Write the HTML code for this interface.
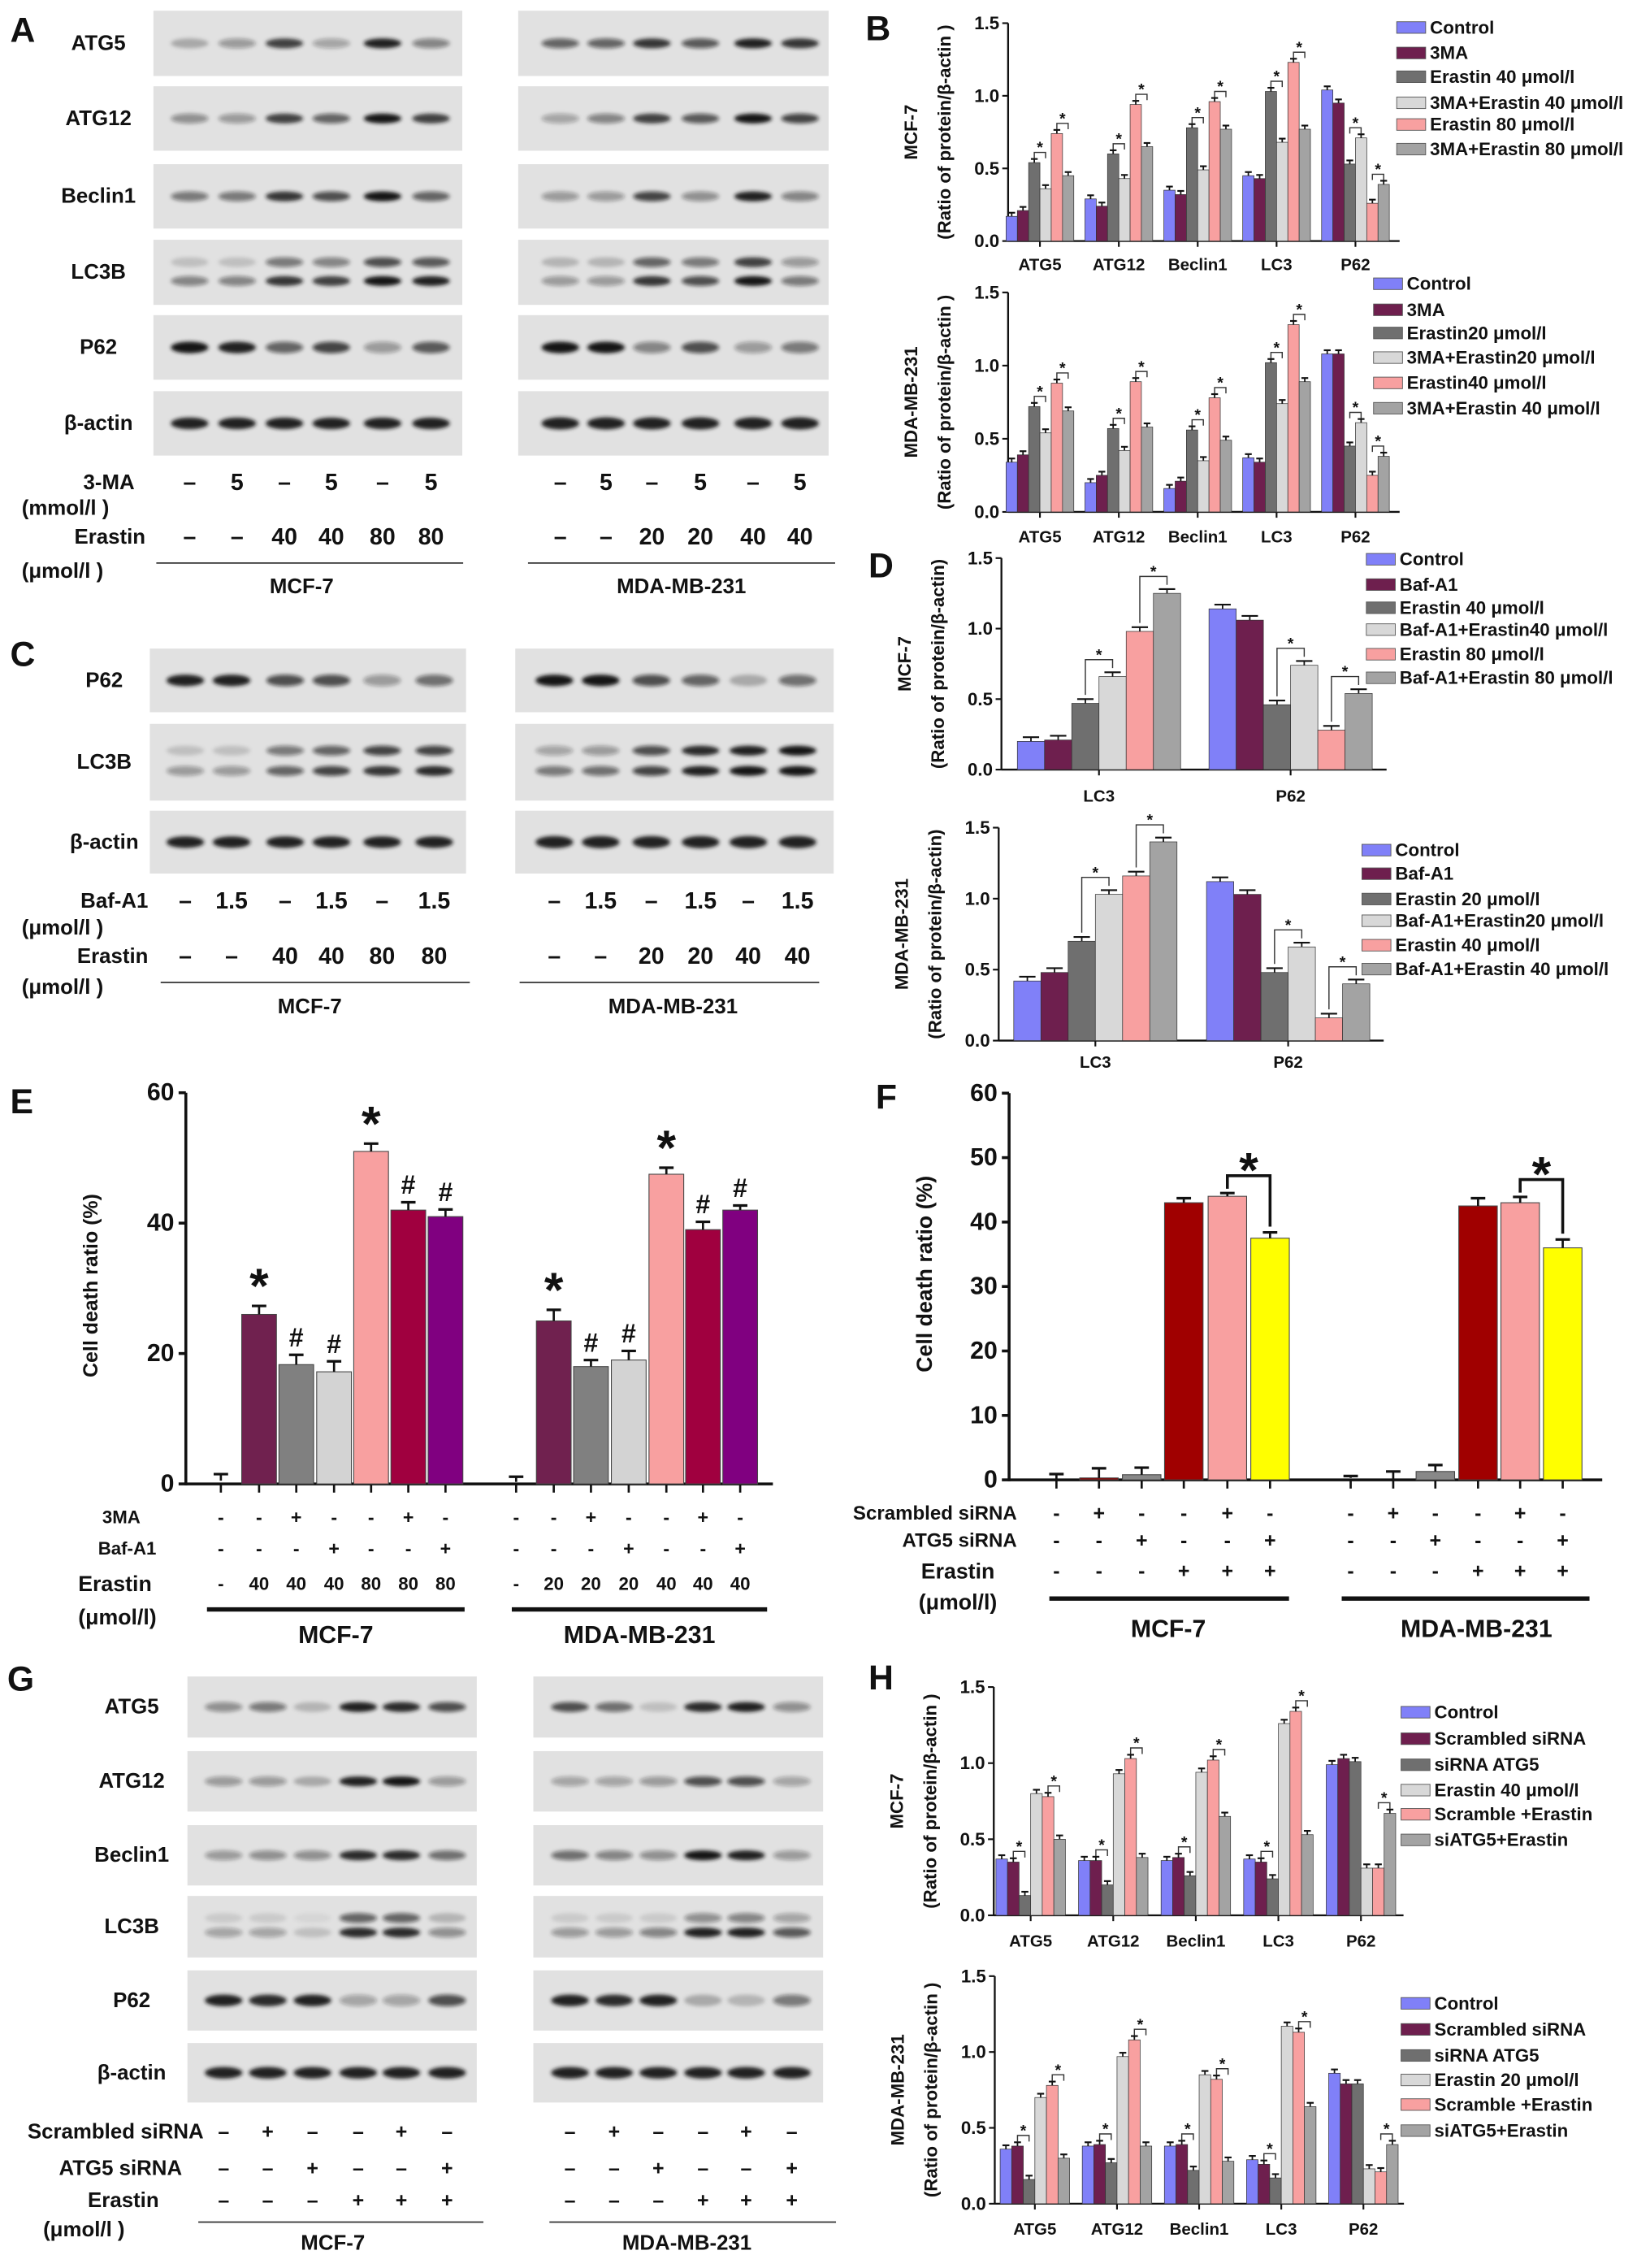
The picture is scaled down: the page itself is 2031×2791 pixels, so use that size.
<!DOCTYPE html>
<html><head><meta charset="utf-8"><style>
html,body{margin:0;padding:0;background:#fff;}
svg{display:block;font-family:"Liberation Sans",sans-serif;font-weight:bold;}
.n{font-family:"Liberation Sans Narrow","Liberation Sans",sans-serif;}
</style></head><body>
<svg id="fig" xmlns="http://www.w3.org/2000/svg" width="2031" height="2791" viewBox="0 0 1140 1566.6">
<defs><filter id="bl" x="-50%" y="-100%" width="200%" height="300%"><feGaussianBlur stdDeviation="1.3"/></filter></defs>
</svg>
<script>
// ---------- Chart data ----------
const bCats = ["ATG5","ATG12","Beclin1","LC3","P62"];
const bMcfSeries = [[0.17,0.29,0.35,0.45,1.04],[0.21,0.24,0.32,0.43,0.95],[0.54,0.60,0.78,1.03,0.53],[0.36,0.43,0.49,0.68,0.71],[0.74,0.94,0.96,1.23,0.26],[0.45,0.65,0.77,0.77,0.39]];
const bMdaSeries = [[0.34,0.20,0.16,0.37,1.08],[0.39,0.25,0.21,0.34,1.08],[0.72,0.57,0.56,1.02,0.45],[0.54,0.42,0.35,0.74,0.61],[0.88,0.89,0.78,1.28,0.25],[0.69,0.58,0.49,0.89,0.38]];
const bMcfLegend = ["Control","3MA","Erastin 40 μmol/l","3MA+Erastin 40 μmol/l","Erastin 80 μmol/l","3MA+Erastin  80 μmol/l"];
const bMdaLegend = ["Control","3MA","Erastin20 μmol/l","3MA+Erastin20 μmol/l","Erastin40 μmol/l","3MA+Erastin 40 μmol/l"];
const dCats = ["LC3","P62"];
const dMcfSeries = [[0.20,1.14],[0.21,1.06],[0.47,0.46],[0.66,0.74],[0.98,0.28],[1.25,0.54]];
const dMdaSeries = [[0.42,1.12],[0.48,1.03],[0.70,0.48],[1.03,0.66],[1.16,0.16],[1.40,0.40]];
const dMcfLegend = ["Control","Baf-A1","Erastin 40 μmol/l","Baf-A1+Erastin40 μmol/l","Erastin 80 μmol/l","Baf-A1+Erastin 80 μmol/l"];
const dMdaLegend = ["Control","Baf-A1","Erastin 20 μmol/l","Baf-A1+Erastin20 μmol/l","Erastin 40 μmol/l","Baf-A1+Erastin 40 μmol/l"];
const hMcfSeries = [[0.37,0.36,0.36,0.37,0.99],[0.35,0.36,0.38,0.35,1.03],[0.13,0.20,0.26,0.24,1.01],[0.80,0.93,0.94,1.26,0.31],[0.78,1.03,1.02,1.34,0.31],[0.50,0.38,0.65,0.53,0.67]];
const hMdaSeries = [[0.36,0.38,0.38,0.29,0.86],[0.38,0.39,0.39,0.26,0.79],[0.16,0.27,0.22,0.17,0.79],[0.70,0.97,0.85,1.17,0.23],[0.78,1.08,0.82,1.13,0.21],[0.30,0.38,0.28,0.64,0.39]];
const hMcfLegend = ["Control","Scrambled siRNA","siRNA ATG5","Erastin  40  μmol/l","Scramble +Erastin","siATG5+Erastin"];
const hMdaLegend = ["Control","Scrambled siRNA","siRNA ATG5","Erastin  20  μmol/l","Scramble +Erastin","siATG5+Erastin"];
const eMcfVals = [0.5,26,18.3,17.2,51,42,41];
const eMcfErr = [1,1.3,1.5,1.6,1.2,1.2,1.1];
const eMdaVals = [0.3,25,18,19,47.5,39,42];
const eMdaErr = [0.8,1.7,1,1.4,1,1.2,0.7];
const eMarks = ["","*","#","#","*","#","#"];
const eYTicks = [0,20,40,60];
const fMcfVals = [0,0.3,0.8,43,44,37.5];
const fMcfErr = [0.9,1.5,1.1,0.7,0.5,0.9];
const fMdaVals = [0.3,0,1.3,42.5,43,36];
const fMdaErr = [0.3,1.3,1.0,1.2,0.9,1.3];
const fYTicks = [0,10,20,30,40,50,60];
const bYTicks = [0,0.5,1,1.5];

// ---------- helpers ----------
const NS="http://www.w3.org/2000/svg";
const svg=document.getElementById('fig');
function mk(tag,attrs,name,parent){
  const el=document.createElementNS(NS,tag);
  for(const k in attrs) el.setAttribute(k,attrs[k]);
  
  
  (parent||svg).appendChild(el);
  return el;
}
function txt(x,y,s,fs,name,anchor,extra){
  const a=Object.assign({x:x,y:y,'font-size':fs,'text-anchor':anchor||'start','dominant-baseline':'central',fill:'#111'},extra||{});
  const t=mk('text',a,name);
  t.textContent=s;
  return t;
}
function line(x1,y1,x2,y2,w,name,col){return mk('line',{x1:x1,y1:y1,x2:x2,y2:y2,stroke:col||'#111','stroke-width':w},name);}

// ---------- panel letters ----------
[["A",7,21],["B",598,20],["C",7,452],["D",600,391],["E",7,761],["F",605,758],["G",5,1160],["H",600,1159]].forEach(p=>{
  txt(p[1],p[2],p[0],24,'panel-label-'+p[0].toLowerCase());
});

// ---------- western blots ----------
function blot(x0,x1,y0,y1,lanes,bands,name){
  mk('rect',{x:x0,y:y0,width:x1-x0,height:y1-y0,fill:'#e1e1e1'},name);
  const cy=(y0+y1)/2;
  bands.forEach(b=>{
    b.v.forEach((v,i)=>{
      mk('ellipse',{cx:lanes[i],cy:cy+b.o,rx:13,ry:b.h||3.4,fill:'#151515','fill-opacity':v,filter:'url(#bl)'},name+'-band');
    });
  });
}
const aMcfLanes=[131,163.8,196.5,228.9,264.3,297.8], aMdaLanes=[387.1,418.7,450.4,483.9,520.3,552.7];
const aRows=[[7.4,52.5,"ATG5"],[59.6,104.1,"ATG12"],[113.4,157.9,"Beclin1"],[165.6,210.6,"LC3B"],[217.7,262.3,"P62"],[270.2,314.7,"β-actin"]];
const aBandsMcf=[[{o:0,v:[.25,.35,.8,.3,.95,.45]}],[{o:0,v:[.4,.35,.8,.6,1,.8]}],[{o:0,v:[.5,.5,.85,.7,1,.6]}],[{o:-7,v:[.15,.15,.5,.45,.7,.65]},{o:6,v:[.45,.45,.85,.8,1,.95]}],[{o:0,v:[1,.95,.6,.75,.35,.65],h:4}],[{o:0,v:[.95,.95,.95,.95,.95,.95],h:4}]];
const aBandsMda=[[{o:0,v:[.6,.6,.85,.65,.95,.85]}],[{o:0,v:[.3,.45,.8,.65,1,.75]}],[{o:0,v:[.35,.35,.75,.4,.95,.45]}],[{o:-7,v:[.2,.2,.6,.5,.8,.35]},{o:6,v:[.35,.35,.85,.7,1,.5]}],[{o:0,v:[1,1,.45,.7,.35,.5],h:4}],[{o:0,v:[.95,.95,.95,.95,.95,.95],h:4.2}]];
aRows.forEach((r,i)=>{
  blot(106,319.4,r[0],r[1],aMcfLanes,aBandsMcf[i],'blot-a-mcf7-'+r[2]);
  blot(358,572.5,r[0],r[1],aMdaLanes,aBandsMda[i],'blot-a-mda-'+r[2]);
  txt(68,(r[0]+r[1])/2,r[2],14.5,'blot-label-a','middle');
});
const aMA=["–","5","–","5","–","5"], aErM=["–","–","40","40","80","80"], aErD=["–","–","20","20","40","40"];
txt(93,333.3,"3-MA",14.5,'row-label-3ma','end');
txt(15,351,"(mmol/l )",14.5,'row-unit-3ma');
txt(100.5,370.9,"Erastin",14.5,'row-label-erastin','end');
txt(15,394.7,"(μmol/l )",14.5,'row-unit-erastin');
aMcfLanes.forEach((x,i)=>{txt(x,333.3,aMA[i],16,'lane-3ma','middle');txt(x,370.9,aErM[i],16,'lane-erastin','middle');});
aMdaLanes.forEach((x,i)=>{txt(x,333.3,aMA[i],16,'lane-3ma','middle');txt(x,370.9,aErD[i],16,'lane-erastin','middle');});
line(108,388.9,320,388.9,1,'group-line-mcf7','#333');line(364.8,388.9,577,388.9,1,'group-line-mda','#333');
txt(208.4,405.3,"MCF-7",14.5,'group-label-mcf7','middle');txt(470.8,405.3,"MDA-MB-231",14.5,'group-label-mda','middle');

// Panel C
const cMcfLanes=[128,160,197,229,264,300], cMdaLanes=[383,415,450,484,517,551];
const cRows=[[448,492,"P62"],[500,553,"LC3B"],[560,603.4,"β-actin"]];
const cBMcf=[[{o:0,v:[.95,.95,.7,.7,.35,.55],h:4}],[{o:-8,v:[.15,.15,.5,.6,.75,.75]},{o:6,v:[.35,.35,.6,.75,.85,.9]}],[{o:0,v:[.95,.95,.95,.95,.95,.95],h:4}]];
const cBMda=[[{o:0,v:[1,1,.7,.6,.25,.55],h:4}],[{o:-8,v:[.3,.35,.7,.9,.95,1]},{o:6,v:[.5,.55,.75,.95,1,1]}],[{o:0,v:[.95,.95,.95,.95,.95,.95],h:4.2}]];
cRows.forEach((r,i)=>{
  blot(103.5,322,r[0],r[1],cMcfLanes,cBMcf[i],'blot-c-mcf7-'+r[2]);
  blot(356,576,r[0],r[1],cMdaLanes,cBMda[i],'blot-c-mda-'+r[2]);
  txt(72,(r[0]+r[1])/2,r[2],14.5,'blot-label-c','middle');
});
const cBaf=["–","1.5","–","1.5","–","1.5"];
txt(102.4,622.4,"Baf-A1",14.5,'row-label-bafa1','end');
txt(15,641,"(μmol/l )",14.5,'row-unit-bafa1');
txt(102.4,660.7,"Erastin",14.5,'row-label-erastin','end');
txt(15,682,"(μmol/l )",14.5,'row-unit-erastin');
cMcfLanes.forEach((x,i)=>{txt(x,622.4,cBaf[i],16,'lane-bafa1','middle');txt(x,660.7,aErM[i],16,'lane-erastin','middle');});
cMdaLanes.forEach((x,i)=>{txt(x,622.4,cBaf[i],16,'lane-bafa1','middle');txt(x,660.7,aErD[i],16,'lane-erastin','middle');});
line(111,678.6,324.6,678.6,1,'group-line-mcf7','#333');line(359,678.6,566,678.6,1,'group-line-mda','#333');
txt(214,695.4,"MCF-7",14.5,'group-label-mcf7','middle');txt(465,695.4,"MDA-MB-231",14.5,'group-label-mda','middle');

// Panel G
const gMcfLanes=[154.5,185,215.9,247.5,277.3,308.9], gMdaLanes=[393.8,424.3,454.8,485.7,515.5,547.1];
const gRows=[[1158,1200.2,"ATG5"],[1209.6,1251.3,"ATG12"],[1260.7,1302.4,"Beclin1"],[1309.6,1352.1,"LC3B"],[1361,1402.6,"P62"],[1411.2,1452.3,"β-actin"]];
const gBMcf=[[{o:0,v:[.4,.5,.2,.95,.9,.7]}],[{o:0,v:[.35,.35,.25,.95,1,.35]}],[{o:0,v:[.35,.4,.4,.9,.9,.55]}],[{o:-6,v:[.1,.1,.05,.6,.6,.2]},{o:4,v:[.3,.3,.15,.9,.9,.4]}],[{o:0,v:[.95,.9,.95,.3,.3,.7],h:4}],[{o:0,v:[.95,.95,.95,.95,.95,.95],h:4}]];
const gBMda=[[{o:0,v:[.7,.55,.15,.9,.95,.4]}],[{o:0,v:[.3,.3,.35,.7,.7,.3]}],[{o:0,v:[.55,.45,.4,1,.95,.35]}],[{o:-6,v:[.1,.1,.1,.4,.45,.3]},{o:4,v:[.35,.35,.45,.95,.95,.65]}],[{o:0,v:[.95,.9,.95,.25,.2,.5],h:4}],[{o:0,v:[.95,.95,.95,.95,.95,.95],h:4}]];
gRows.forEach((r,i)=>{
  blot(129.5,329.4,r[0],r[1],gMcfLanes,gBMcf[i],'blot-g-mcf7-'+r[2]);
  blot(368.5,568.7,r[0],r[1],gMdaLanes,gBMda[i],'blot-g-mda-'+r[2]);
  txt(91,(r[0]+r[1])/2,r[2],14.5,'blot-label-g','middle');
});
const gScr=["–","+","–","–","+","–"], gSi=["–","–","+","–","–","+"], gEr=["–","–","–","+","+","+"];
txt(140.7,1472.5,"Scrambled siRNA",14.5,'row-label-scrambled','end');
txt(125.8,1497.8,"ATG5 siRNA",14.5,'row-label-atg5sirna','end');
txt(109.8,1520.1,"Erastin",14.5,'row-label-erastin','end');
txt(29.8,1540.2,"(μmol/l )",14.5,'row-unit-erastin');
[gMcfLanes,gMdaLanes].forEach(L=>L.forEach((x,i)=>{txt(x,1472.5,gScr[i],14,'lane-scrambled','middle');txt(x,1497.8,gSi[i],14,'lane-atg5sirna','middle');txt(x,1520.1,gEr[i],14,'lane-erastin','middle');}));
line(137,1534.9,334,1534.9,1,'group-line-mcf7','#333');line(379.6,1534.9,577.6,1534.9,1,'group-line-mda','#333');
txt(230,1549.6,"MCF-7",14.5,'group-label-mcf7','middle');txt(474.6,1549.6,"MDA-MB-231",14.5,'group-label-mda','middle');

// ---------- grouped bar charts ----------
const pal6=["#8080f8","#6e1f4e","#6f6f6f","#d8d8d8","#f8a0a0","#a3a3a3"];
function grouped(c,series,cats,legend,pairs){
  const y=v=>c.base-v/1.5*(c.base-c.top);
  const gx=i=>c.g0+i*c.step;
  line(c.ax,c.top,c.ax,c.base+0.5,1.3,'y-axis');
  line(c.ax,c.base,c.axEnd,c.base,1.3,'x-axis');
  bYTicks.forEach(t=>{line(c.ax-4,y(t),c.ax,y(t),1.2,'y-tick');txt(c.ax-6,y(t),t.toFixed(1),12.5,'y-tick-label','end',{class:'n'});});
  cats.forEach((cat,i)=>{line(gx(i),c.base,gx(i),c.base+4,1.2,'x-tick');txt(gx(i),c.labY,cat,11.5,'x-tick-label','middle',{class:'n'});});
  series.forEach((s,j)=>{
    s.forEach((v,i)=>{
      const cx=gx(i)+(j-2.5)*c.bw;
      mk('rect',{x:cx-c.bw/2,y:y(v),width:c.bw,height:c.base-y(v),fill:pal6[j],stroke:'#333','stroke-width':0.4},'bar-'+cats[i]+'-s'+j);
      const e=c.err||0.025;
      line(cx,y(v),cx,y(v+e),1,'error-bar');
      line(cx-c.bw*0.3,y(v+e),cx+c.bw*0.3,y(v+e),1.2,'error-cap');
    });
  });
  cats.forEach((cat,i)=>{
    pairs(i).forEach(p=>{
      const a=series[p[0]][i], b=series[p[1]][i];
      const xa=gx(i)+(p[0]-2.5)*c.bw, xb=gx(i)+(p[1]-2.5)*c.bw;
      const top=Math.max(a,b)+c.gap;
      const la=c.longLegs?a+0.06:top-0.04, lb=c.longLegs?b+0.06:top-0.04;
      mk('path',{d:`M${xa},${y(Math.min(la,top-0.02))}V${y(top)}H${xb}V${y(Math.min(lb,top-0.02))}`,fill:'none',stroke:'#333','stroke-width':0.8},'significance-bracket');
      txt((xa+xb)/2,y(top)-3,"*",11,'significance-star','middle');
    });
  });
  legend.forEach((l,j)=>{
    const ry=c.legY[j];
    mk('rect',{x:c.legX,y:ry-4,width:20,height:8,fill:pal6[j],stroke:'#555','stroke-width':0.5},'legend-swatch');
    txt(c.legX+23,ry,l,12.5,'legend-entry','start',{class:'n'});
  });
  const mid=(c.top+c.base)/2;
  txt(c.ax-67,mid,c.yl1,12.5,'y-axis-title','middle',{class:'n',transform:`rotate(-90 ${c.ax-67} ${mid})`});
  txt(c.ax-44,mid,c.yl2,12.5,'y-axis-subtitle','middle',{class:'n',transform:`rotate(-90 ${c.ax-44} ${mid})`});
}
const pairsB=()=>[[2,3],[4,5]];
const pairsH=i=>i===4?[[4,5]]:[[1,2],[4,5]];
const yl2="(Ratio of protein/β-actin )";
grouped({ax:696.5,axEnd:967,base:166.5,top:16,g0:718.5,step:54.5,bw:7.8,labY:183,gap:0.07,legX:965,legY:[19,36.6,53,71,86,103],yl1:"MCF-7",yl2:yl2},bMcfSeries,bCats,bMcfLegend,pairsB);
grouped({ax:696.5,axEnd:967,base:353.6,top:202,g0:718.5,step:54.5,bw:7.8,labY:371,gap:0.07,legX:949,legY:[196,214,230,247,264.5,282],yl1:"MDA-MB-231",yl2:yl2},bMdaSeries,bCats,bMdaLegend,pairsB);
grouped({ax:691.9,axEnd:958,base:531.6,top:385.5,g0:759.3,step:132.4,bw:18.8,labY:550,gap:0.12,longLegs:true,err:0.03,legX:944,legY:[386.3,403.8,419.8,434.9,451.9,468.2],yl1:"MCF-7",yl2:"(Ratio of protein/β-actin)"},dMcfSeries,dCats,dMcfLegend,pairsB);
grouped({ax:690,axEnd:956,base:718.8,top:571.7,g0:756.8,step:133.2,bw:18.8,labY:734,gap:0.12,longLegs:true,err:0.03,legX:941,legY:[587.2,603.5,621,636,652.9,669.4],yl1:"MDA-MB-231",yl2:"(Ratio of protein/β-actin)"},dMdaSeries,dCats,dMdaLegend,pairsB);
grouped({ax:686.6,axEnd:969.7,base:1323,top:1165.3,g0:712.1,step:57.05,bw:8,labY:1341,gap:0.07,legX:968,legY:[1182.7,1201,1219,1236.5,1253.2,1270.9],yl1:"MCF-7",yl2:yl2},hMcfSeries,bCats,hMcfLegend,pairsH);
grouped({ax:687.3,axEnd:970,base:1522.2,top:1365,g0:715,step:56.75,bw:8,labY:1540,gap:0.07,legX:968,legY:[1383.8,1401.8,1419.8,1436.7,1453.7,1471.7],yl1:"MDA-MB-231",yl2:yl2},hMdaSeries,bCats,hMdaLegend,pairsH);

// ---------- Panel E ----------
(function(){
  const base=1025, top=754.8, ax=128.4;
  const y=v=>base-v/60*(base-top);
  const eCols=["#fff","#70214f","#808080","#d3d3d3","#f8a0a0","#a0003f","#800080"];
  const mcfX=[152.6,179,204.7,230.8,256.4,282.1,307.8], mdaX=[356.6,382.6,408.3,434.4,460.4,485.7,511.4];
  line(ax,top,ax,base+1,2,'y-axis');line(ax,base,534,base,2,'x-axis');
  eYTicks.forEach(t=>{line(ax-5,y(t),ax,y(t),2,'y-tick');txt(ax-8,y(t),String(t),17,'y-tick-label','end');});
  [[mcfX,eMcfVals,eMcfErr],[mdaX,eMdaVals,eMdaErr]].forEach(g=>{
    g[0].forEach((x,i)=>{
      const v=g[1][i], e=g[2][i];
      line(x,base,x,base+6,1.5,'x-tick');
      if(i>0) mk('rect',{x:x-12,y:y(v),width:24,height:base-y(v),fill:eCols[i],stroke:'#444','stroke-width':0.6},'bar-cell-death-'+i);
      line(x,y(v),x,y(v+e),1.5,'error-bar');line(x-5,y(v+e),x+5,y(v+e),1.8,'error-cap');
      if(eMarks[i]==="*") txt(x,y(v+e)-14,"*",34,'significance-star','middle');
      if(eMarks[i]==="#") txt(x,y(v+e)-12,"#",18,'significance-hash','middle');
    });
  });
  txt(63,888,"Cell death ratio  (%)",14,'y-axis-title','middle',{transform:'rotate(-90 63 888)'});
  const r3=["-","-","+","-","-","+","-"], rb=["-","-","-","+","-","-","+"], erM=["-","40","40","40","80","80","80"], erD=["-","20","20","20","40","40","40"];
  txt(97,1048,"3MA",12.5,'row-label-3ma','end');txt(108,1069.5,"Baf-A1",12.5,'row-label-bafa1','end');
  txt(54,1094,"Erastin",15,'row-label-erastin');txt(54,1117,"(μmol/l)",15,'row-unit-erastin');
  mcfX.forEach((x,i)=>{txt(x,1048,r3[i],13,'row-3ma','middle');txt(x,1069.5,rb[i],13,'row-bafa1','middle');txt(x,1094,erM[i],12.5,'row-erastin','middle');});
  mdaX.forEach((x,i)=>{txt(x,1048,r3[i],13,'row-3ma','middle');txt(x,1069.5,rb[i],13,'row-bafa1','middle');txt(x,1094,erD[i],12.5,'row-erastin','middle');});
  line(143,1111.7,321,1111.7,3,'group-line-mcf7');line(353.6,1111.7,530,1111.7,3,'group-line-mda');
  txt(232,1129.6,"MCF-7",17,'group-label-mcf7','middle');txt(441.8,1129.6,"MDA-MB-231",17,'group-label-mda','middle');
})();

// ---------- Panel F ----------
(function(){
  const base=1022.2, top=755.1, ax=697.2;
  const y=v=>base-v/60*(base-top);
  const fCols=["#fff","#8b0000","#888888","#a00000","#f8a0a0","#ffff00"];
  const mcfX=[729.9,759.3,788.8,817.9,848,877.5], mdaX=[933.2,962.6,991.7,1021.2,1050.3,1079.7];
  line(ax,top,ax,base+1,2,'y-axis');line(ax,base,1107,base,2,'x-axis');
  fYTicks.forEach(t=>{line(ax-5,y(t),ax,y(t),2,'y-tick');txt(ax-8,y(t),String(t),17,'y-tick-label','end');});
  [[mcfX,fMcfVals,fMcfErr],[mdaX,fMdaVals,fMdaErr]].forEach(g=>{
    g[0].forEach((x,i)=>{
      const v=g[1][i], e=g[2][i];
      line(x,base,x,base+6,1.5,'x-tick');
      if(i>0&&v>0) mk('rect',{x:x-13.3,y:y(v),width:26.6,height:base-y(v),fill:fCols[i],stroke:'#444','stroke-width':0.6},'bar-cell-death-'+i);
      line(x,y(v),x,y(v+e),1.5,'error-bar');line(x-5,y(v+e),x+5,y(v+e),1.8,'error-cap');
    });
    const xa=g[0][4], xb=g[0][5], va=g[1][4]+g[2][4], vb=g[1][5]+g[2][5];
    const tp=y(va)-12;
    mk('path',{d:`M${xa},${y(va)-3}V${tp}H${xb}V${y(vb)-4}`,fill:'none',stroke:'#111','stroke-width':2},'significance-bracket');
    txt((xa+xb)/2,tp-4,"*",34,'significance-star','middle');
  });
  txt(638.7,880,"Cell death ratio  (%)",15,'y-axis-title','middle',{transform:'rotate(-90 638.7 880)'});
  txt(702.6,1045.3,"Scrambled siRNA",13.5,'row-label-scrambled','end');
  txt(702.6,1064.1,"ATG5 siRNA",13.5,'row-label-atg5sirna','end');
  txt(661.8,1085.4,"Erastin",15,'row-label-erastin','middle');
  txt(661.8,1106.7,"(μmol/l)",15,'row-unit-erastin','middle');
  const rs=["-","+","-","-","+","-"], ra=["-","-","+","-","-","+"], re=["-","-","-","+","+","+"];
  [mcfX,mdaX].forEach(L=>L.forEach((x,i)=>{txt(x,1045.3,rs[i],14,'row-scrambled','middle');txt(x,1064.1,ra[i],14,'row-atg5sirna','middle');txt(x,1085.4,re[i],14,'row-erastin','middle');}));
  line(725,1104.2,890.6,1104.2,3,'group-line-mcf7');line(927,1104.2,1098.2,1104.2,3,'group-line-mda');
  txt(807.2,1125.5,"MCF-7",17,'group-label-mcf7','middle');txt(1020.1,1125.5,"MDA-MB-231",17,'group-label-mda','middle');
})();
</script>
</body></html>
